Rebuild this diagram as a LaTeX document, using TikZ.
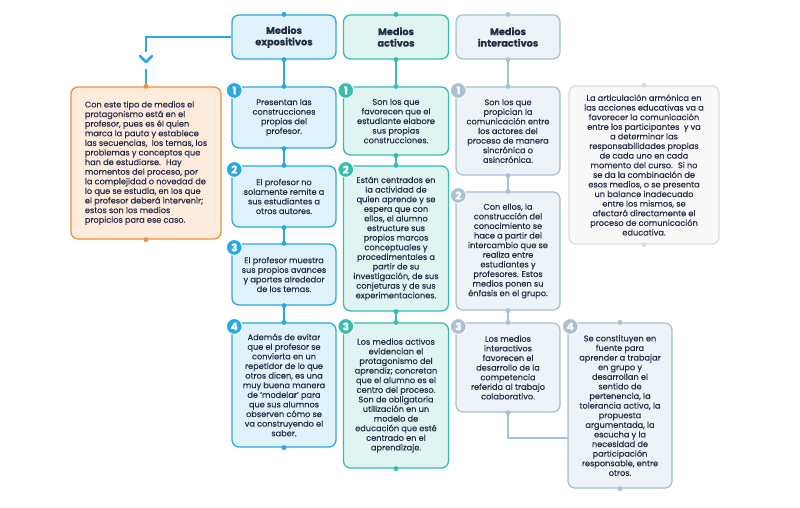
\documentclass[tikz,border=0pt]{standalone}
\usepackage{fontspec}
\setmainfont{Poppins}[FakeBold=0.35]
\definecolor{ink}{HTML}{262B48}
\definecolor{expoline}{HTML}{29A9E1}
\definecolor{expofill}{HTML}{E0F3FC}
\definecolor{actiline}{HTML}{35BEB0}
\definecolor{actifill}{HTML}{E0F5F2}
\definecolor{interline}{HTML}{A9C1D1}
\definecolor{interfill}{HTML}{EEF3F7}
\definecolor{orangeline}{HTML}{F0913A}
\definecolor{orangefill}{HTML}{FDEBDD}
\definecolor{grayline}{HTML}{DDDDDD}
\definecolor{grayfill}{HTML}{F8F8F8}
\begin{document}
\begin{tikzpicture}[x=0.03cm, y=-0.03cm,
    card/.style={rounded corners=6pt, line width=1.1pt, align=center, text=ink, inner sep=3pt,
      font=\fontsize{7}{8.2}\selectfont},
    expo/.style={card, draw=expoline, fill=expofill, minimum width=3.12cm},
    acti/.style={card, draw=actiline, fill=actifill, minimum width=3.15cm},
    inter/.style={card, draw=interline, fill=interfill, minimum width=3.12cm},
    head/.style={font=\bfseries\fontsize{8.3}{9.8}\selectfont, minimum height=1.32cm},
    link/.style={line width=1.6pt},
    badge/.style={circle, fill=#1, draw=white, line width=0.8pt, text=white, inner sep=0pt,
      minimum size=13.5pt, font=\bfseries\fontsize{9}{9}\selectfont}]
    \useasboundingbox[fill=white] (0,0) rectangle (800,508);

    % Headers
    \node[expo, head] (eh) at (284,37) {Medios\\expositivos};
    \node[acti, head] (ah) at (396,37) {Medios\\activos};
    \node[inter, head] (ih) at (508,37) {Medios\\interactivos};

    % Side notes
    \node[card, draw=orangeline, fill=orangefill, align=left, minimum width=4.5cm, minimum height=4.56cm]
      (expnote) at (146,163) {Con este tipo de medios el\\protagonismo está en el\\profesor, pues es él quien\\marca la pauta y establece\\las secuencias,~ los temas, los\\problemas y conceptos que\\han de estudiarse.~ Hay\\momentos del proceso, por\\la complejidad o novedad de\\lo que se estudia, en los que\\el profesor deberá intervenir;\\estos son los medios\\propicios para ese caso.};
    \node[card, draw=grayline, fill=grayfill, minimum width=4.5cm, minimum height=4.74cm]
      (mixnote) at (644,165) {La articulación armónica en\\las acciones educativas va a\\favorecer la comunicación\\entre los participantes~ y va\\a determinar las\\responsabilidades propias\\de cada uno en cada\\momento del curso.~ Si no\\se da la combinación de\\esos medios, o se presenta\\un balance inadecuado\\entre los mismos, se\\afectará directamente el\\proceso de comunicación\\educativa.};

    % Medios expositivos
    \node[expo, minimum height=1.83cm] (e1) at (284,117.5) {Presentan las\\construcciones\\propias del\\profesor.};
    \node[expo, minimum height=1.83cm] (e2) at (284,196.5) {El profesor no\\solamente remite a\\sus estudiantes a\\otros autores.};
    \node[expo, minimum height=1.83cm] (e3) at (284,274.5) {El profesor muestra\\sus propios avances\\y aportes alrededor\\de los temas.};
    \node[expo, minimum height=3.72cm] (e4) at (284,385) {Además de evitar\\que el profesor se\\convierta en un\\repetidor de lo que\\otros dicen, es una\\muy buena manera\\de 'modelar' para\\que sus alumnos\\observen cómo se\\va construyendo el\\saber.};

    % Medios activos
    \node[acti, minimum height=2.04cm] (a1) at (396,121) {Son los que\\favorecen que el\\estudiante elabore\\sus propias\\construcciones.};
    \node[acti, minimum height=4.35cm] (a2) at (396,238.5) {Están centrados en\\la actividad de\\quien aprende y se\\espera que con\\ellos, el alumno\\estructure sus\\propios marcos\\conceptuales y\\procedimentales a\\partir de su\\investigación, de sus\\conjeturas y de sus\\experimentaciones.};
    \node[acti, minimum height=4.35cm] (a3) at (396,395.5) {Los medios activos\\evidencian el\\protagonismo del\\aprendiz; concretan\\que el alumno es el\\centro del proceso.\\Son de obligatoria\\utilización en un\\modelo de\\educación que esté\\centrado en el\\aprendizaje.};

    % Medios interactivos
    \node[inter, minimum height=2.64cm] (i1) at (508,131) {Son los que\\propician la\\comunicación entre\\los actores del\\proceso de manera\\sincrónica o\\asincrónica.};
    \node[inter, minimum height=3.54cm] (i2) at (508,251) {Con ellos, la\\construcción del\\conocimiento se\\hace a partir del\\intercambio que se\\realiza entre\\estudiantes y\\profesores. Estos\\medios ponen su\\énfasis en el grupo.};
    \node[inter, minimum height=2.67cm] (i3) at (508,367.5) {Los medios\\interactivos\\favorecen el\\desarrollo de la\\competencia\\referida al trabajo\\colaborativo.};
    \node[inter, minimum height=4.95cm] (i4) at (620,405.5) {Se constituyen en\\fuente para\\aprender a trabajar\\en grupo y\\desarrollan el\\sentido de\\pertenencia, la\\tolerancia activa, la\\propuesta\\argumentada, la\\escucha y la\\necesidad de\\participación\\responsable, entre\\otros.};

    % Connectors
    \coordinate (vtop) at (146,52);
    \coordinate (vbot) at (146,69);
    \coordinate (ijoin) at (568,438);
    \draw[link, expoline] (eh.west) -| (vtop);
    \draw[link, expoline, line width=2.2pt, line cap=round, line join=round] (140,56) -- (146,62) -- (152,56);
    \draw[link, expoline] (vbot) -- (expnote.north);
    \draw[link, expoline] (eh.south) -- (e1.north) (e1.south) -- (e2.north) (e2.south) -- (e3.north) (e3.south) -- (e4.north);
    \draw[link, actiline] (ah.south) -- (a1.north) (a1.south) -- (a2.north) (a2.south) -- (a3.north);
    \draw[link, interline] (ih.south) -- (i1.north) (i1.south) -- (i2.north) (i2.south) -- (i3.north);
    \draw[link, interline] (i3.south) |- (ijoin);

    % Dots on the borders
    \foreach \p in {eh.north, eh.south, e1.north, e1.south, e2.north, e2.south, e3.north, e3.south, e4.north, e4.south}
      \fill[expoline] (\p) circle (2.1pt);
    \foreach \p in {ah.north, ah.south, a1.north, a1.south, a2.north, a2.south, a3.north, a3.south}
      \fill[actiline] (\p) circle (2.1pt);
    \foreach \p in {ih.north, ih.south, i1.north, i1.south, i2.north, i2.south, i3.north, i3.south, i4.north, i4.south}
      \fill[interline] (\p) circle (2.1pt);
    \fill[orangeline] (expnote.north) circle (2.1pt) (expnote.south) circle (2.1pt);
    \fill[grayline] (mixnote.north) circle (2.1pt) (mixnote.south) circle (2.1pt);

    % Numbers
    \node[badge=expoline] (e1n) at ([xshift=2.5pt,yshift=-3.5pt]e1.north west) {1};
    \node[badge=expoline] (e2n) at ([xshift=2.5pt,yshift=-3.5pt]e2.north west) {2};
    \node[badge=expoline] (e3n) at ([xshift=2.5pt,yshift=-3.5pt]e3.north west) {3};
    \node[badge=expoline] (e4n) at ([xshift=2.5pt,yshift=-3.5pt]e4.north west) {4};
    \node[badge=actiline] (a1n) at ([xshift=2.5pt,yshift=-3.5pt]a1.north west) {1};
    \node[badge=actiline] (a2n) at ([xshift=2.5pt,yshift=-3.5pt]a2.north west) {2};
    \node[badge=actiline] (a3n) at ([xshift=2.5pt,yshift=-3.5pt]a3.north west) {3};
    \node[badge=interline] (i1n) at ([xshift=2.5pt,yshift=-3.5pt]i1.north west) {1};
    \node[badge=interline] (i2n) at ([xshift=2.5pt,yshift=-3.5pt]i2.north west) {2};
    \node[badge=interline] (i3n) at ([xshift=2.5pt,yshift=-3.5pt]i3.north west) {3};
    \node[badge=interline] (i4n) at ([xshift=2.5pt,yshift=-3.5pt]i4.north west) {4};
\end{tikzpicture}
\end{document}
